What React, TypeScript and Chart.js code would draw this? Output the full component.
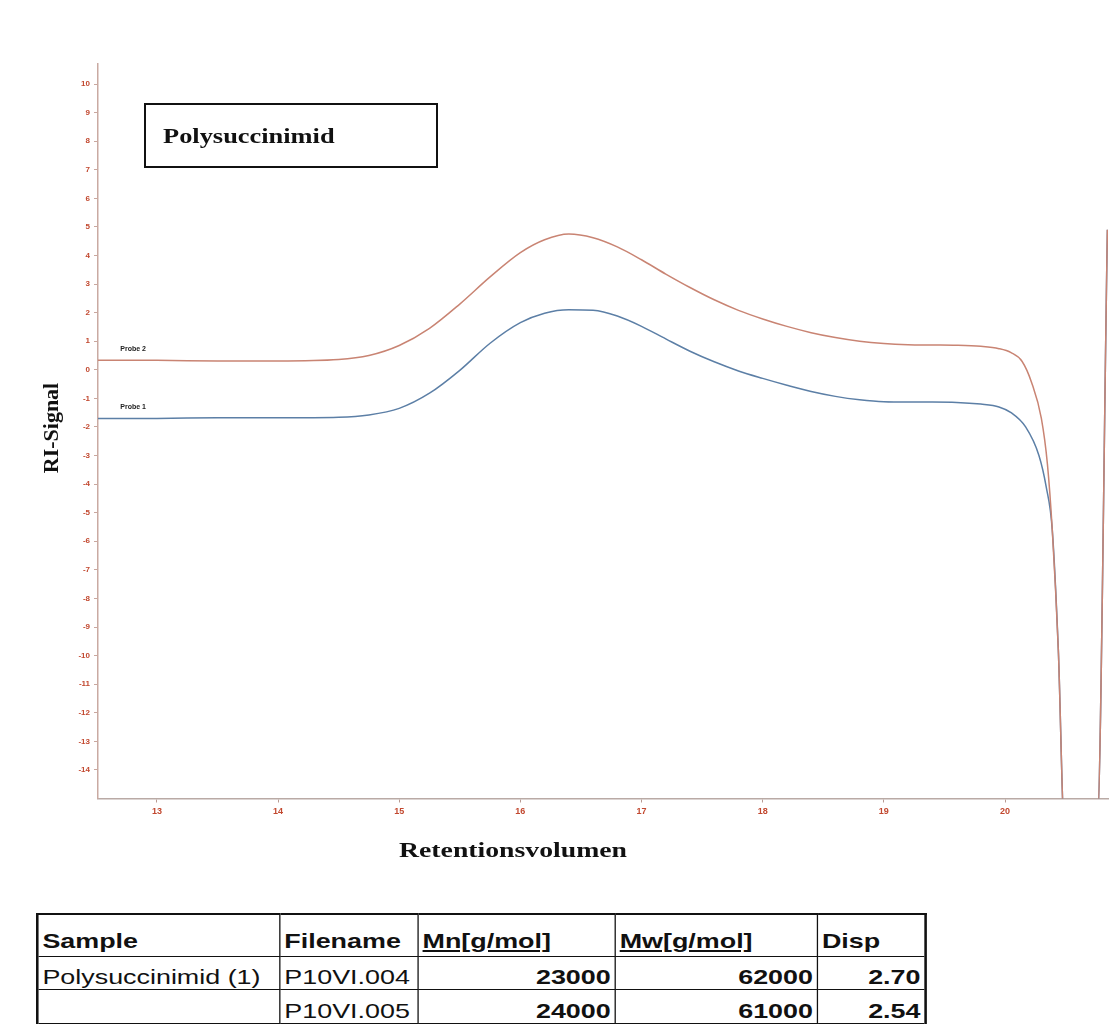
import React, { useEffect, useRef } from "react";
import { Chart, registerables } from "chart.js";

Chart.register(...registerables);

// ---- Data -----------------------------------------------------------------
const probe2X = [12.5, 13.0, 13.5, 14.0, 14.5, 14.75, 15.0, 15.25, 15.5, 15.75, 16.0, 16.2, 16.4, 16.6, 16.8, 17.0, 17.2, 17.4, 17.6, 17.8, 18.0, 18.2, 18.4, 18.6, 18.8, 19.0, 19.2, 19.4, 19.6, 19.8, 19.95, 20.05, 20.14, 20.22, 20.3, 20.35, 20.39, 20.44, 20.49, 20.76, 20.845];
const probe2Y = [0.33, 0.33, 0.31, 0.31, 0.36, 0.5, 0.85, 1.45, 2.3, 3.25, 4.1, 4.55, 4.75, 4.62, 4.3, 3.85, 3.35, 2.88, 2.45, 2.08, 1.78, 1.52, 1.3, 1.13, 1.0, 0.92, 0.88, 0.87, 0.86, 0.82, 0.74, 0.6, 0.3, -0.45, -1.7, -3.3, -5.6, -9.8, -16, -16, 4.9];

const probe1X = [12.5, 13.0, 13.5, 14.0, 14.5, 14.75, 15.0, 15.25, 15.5, 15.75, 16.0, 16.2, 16.4, 16.6, 16.8, 17.0, 17.2, 17.4, 17.6, 17.8, 18.0, 18.2, 18.4, 18.6, 18.8, 19.0, 19.2, 19.4, 19.6, 19.8, 19.95, 20.05, 20.17, 20.28, 20.34, 20.39, 20.44, 20.49, 20.76, 20.845];
const probe1Y = [-1.7, -1.7, -1.68, -1.68, -1.66, -1.58, -1.35, -0.82, -0.02, 0.93, 1.65, 1.98, 2.1, 2.08, 1.88, 1.52, 1.08, 0.65, 0.28, -0.04, -0.3, -0.54, -0.76, -0.93, -1.05, -1.12, -1.13, -1.13, -1.14, -1.2, -1.3, -1.5, -2.0, -3.0, -4.1, -5.6, -9.8, -16, -16, 4.9];

const seriesNames = ["Probe 2", "Probe 1"];
const xTickValues = [13, 14, 15, 16, 17, 18, 19, 20];
const yTickValues = [10, 9, 8, 7, 6, 5, 4, 3, 2, 1, 0, -1, -2, -3, -4, -5, -6, -7, -8, -9, -10, -11, -12, -13, -14];

const chartTitle = "Polysuccinimid";
const xAxisTitle = "Retentionsvolumen";
const yAxisTitle = "RI-Signal";

const tableHeaders = ["Sample", "Filename", "Mn[g/mol]", "Mw[g/mol]", "Disp"];
const sampleNames = ["Polysuccinimid (1)", ""];
const fileNames = ["P10VI.004", "P10VI.005"];
const mnValues = [23000, 24000];
const mwValues = [62000, 61000];
const dispValues = [2.7, 2.54];

// ---- Layout / style --------------------------------------------------------
const W = 1110;
const H = 880;
const AXIS_LEFT = 98;
const AXIS_BOTTOM = 798.5;
const TICK_RED = "#c2482f";
const SERIF = '"Liberation Serif", "Times New Roman", serif';
const SANS = '"Liberation Sans", Arial, sans-serif';

function stretchedText(
  ctx: CanvasRenderingContext2D,
  text: string,
  x: number,
  y: number,
  font: string,
  sx: number,
  align: CanvasTextAlign
) {
  ctx.save();
  ctx.font = font;
  ctx.fillStyle = "#111";
  ctx.textAlign = align;
  ctx.textBaseline = "alphabetic";
  ctx.translate(x, y);
  ctx.scale(sx, 1);
  ctx.fillText(text, 0, 0);
  ctx.restore();
}

const annotationPlugin = {
  id: "annotations",
  afterDatasetsDraw(chart: any) {
    const ctx: CanvasRenderingContext2D = chart.ctx;
    const xs = chart.scales.x;
    const ys = chart.scales.y;
    const firsts = [
      [probe2X[0], probe2Y[0]],
      [probe1X[0], probe1Y[0]],
    ];
    firsts.forEach((p, i) => {
      ctx.save();
      ctx.font = `bold 7px ${SANS}`;
      ctx.fillStyle = "#222";
      ctx.textAlign = "left";
      ctx.textBaseline = "middle";
      ctx.fillText(seriesNames[i], xs.getPixelForValue(p[0]) + 24, ys.getPixelForValue(p[1]) - 11);
      ctx.restore();
    });
  },
  afterDraw(chart: any) {
    const ctx: CanvasRenderingContext2D = chart.ctx;
    ctx.save();
    ctx.strokeStyle = "#111";
    ctx.lineWidth = 2;
    ctx.strokeRect(145, 104, 292, 63);
    ctx.restore();
    stretchedText(ctx, chartTitle, 163, 143, `bold 22px ${SERIF}`, 1.2, "left");
    stretchedText(ctx, xAxisTitle, 513, 857, `bold 22px ${SERIF}`, 1.26, "center");
    ctx.save();
    ctx.font = `bold 22px ${SERIF}`;
    ctx.fillStyle = "#111";
    ctx.textAlign = "center";
    ctx.textBaseline = "middle";
    ctx.translate(52, 428);
    ctx.rotate(-Math.PI / 2);
    ctx.fillText(yAxisTitle, 0, 0);
    ctx.restore();
  },
};

function ChromChart() {
  const ref = useRef<HTMLCanvasElement | null>(null);
  useEffect(() => {
    if (!ref.current) return;
    const chart = new Chart(ref.current, {
      type: "line",
      data: {
        datasets: [
          {
            label: seriesNames[0],
            data: probe2X.map((x, i) => ({ x, y: probe2Y[i] })),
            borderColor: "#c98473",
            borderWidth: 1.5,
            pointRadius: 0,
            cubicInterpolationMode: "monotone",
            fill: false,
          },
          {
            label: seriesNames[1],
            data: probe1X.map((x, i) => ({ x, y: probe1Y[i] })),
            borderColor: "#5c7fa6",
            borderWidth: 1.5,
            pointRadius: 0,
            cubicInterpolationMode: "monotone",
            fill: false,
          },
        ],
      },
      options: {
        responsive: false,
        animation: false,
        devicePixelRatio: 1,
        layout: { padding: { top: 64, right: 2, left: 0, bottom: 0 } },
        plugins: {
          legend: { display: false },
          tooltip: { enabled: false },
          title: { display: false },
        },
        scales: {
          x: {
            type: "linear",
            min: 12.514,
            max: 20.85,
            afterBuildTicks: (s: any) => {
              s.ticks = xTickValues.map((v) => ({ value: v }));
            },
            afterFit: (s: any) => {
              s.height = H - AXIS_BOTTOM;
            },
            grid: { drawOnChartArea: false, tickLength: 4, tickColor: "#b89a92", tickWidth: 1 },
            border: { color: "#b9aaa5", width: 1.5 },
            ticks: {
              color: TICK_RED,
              font: { family: SANS, size: 9, weight: "bold" },
              padding: 4,
              maxRotation: 0,
              autoSkip: false,
              callback: (v: any) => String(v),
            },
          },
          y: {
            type: "linear",
            min: -15,
            max: 10.7,
            afterBuildTicks: (s: any) => {
              s.ticks = yTickValues.map((v) => ({ value: v }));
            },
            afterFit: (s: any) => {
              s.width = AXIS_LEFT;
            },
            grid: { drawOnChartArea: false, tickLength: 4, tickColor: "#c9a79e", tickWidth: 1 },
            border: { color: "#c9aaa2", width: 1.5 },
            ticks: {
              color: TICK_RED,
              font: { family: SANS, size: 8, weight: "bold" },
              padding: 4,
              autoSkip: false,
              callback: (v: any) => String(v),
            },
          },
        },
      },
      plugins: [annotationPlugin],
    } as any);
    return () => chart.destroy();
  }, []);
  return (
    <canvas
      ref={ref}
      width={W}
      height={H}
      style={{ position: "absolute", left: 0, top: 0, width: W, height: H }}
    />
  );
}

const colWidths = [182, 101, 147, 151, 77];

function DataTable() {
  const outer = "2px solid #111";
  const inner = "1px solid #111";
  const cell = (i: number, isHeader: boolean): React.CSSProperties => ({
    width: colWidths[i],
    borderLeft: i === 0 ? outer : inner,
    borderRight: i === colWidths.length - 1 ? outer : inner,
    borderTop: isHeader ? outer : inner,
    borderBottom: inner,
    padding: isHeader ? "0 3px 3px 3px" : "0 3px 0 3px",
    verticalAlign: "bottom",
    whiteSpace: "nowrap",
    overflow: "hidden",
  });
  return (
    <div
      style={{
        position: "absolute",
        left: 36,
        top: 913,
        transform: "scaleX(1.28)",
        transformOrigin: "0 0",
      }}
    >
      <table
        style={{
          borderCollapse: "collapse",
          tableLayout: "fixed",
          fontFamily: SANS,
          fontSize: 21,
          color: "#111",
        }}
      >
        <tbody>
          <tr style={{ height: 42 }}>
            {tableHeaders.map((h, i) => (
              <td
                key={h}
                style={{
                  ...cell(i, true),
                  fontWeight: "bold",
                  textAlign: "left",
                  textDecoration: i === 2 || i === 3 ? "underline" : "none",
                }}
              >
                {h}
              </td>
            ))}
          </tr>
          {fileNames.map((f, r) => (
            <tr key={f} style={{ height: r === 0 ? 33 : 34 }}>
              <td style={{ ...cell(0, false), textAlign: "left" }}>{sampleNames[r]}</td>
              <td style={{ ...cell(1, false), textAlign: "left" }}>{f}</td>
              <td style={{ ...cell(2, false), textAlign: "right", fontWeight: "bold" }}>{mnValues[r]}</td>
              <td style={{ ...cell(3, false), textAlign: "right", fontWeight: "bold" }}>{mwValues[r]}</td>
              <td style={{ ...cell(4, false), textAlign: "right", fontWeight: "bold" }}>
                {dispValues[r].toFixed(2)}
              </td>
            </tr>
          ))}
        </tbody>
      </table>
    </div>
  );
}

export default function App() {
  return (
    <div
      style={{
        position: "absolute",
        left: 0,
        top: 0,
        width: 1110,
        height: 1024,
        overflow: "hidden",
        background: "#fff",
      }}
    >
      <ChromChart />
      <DataTable />
    </div>
  );
}
